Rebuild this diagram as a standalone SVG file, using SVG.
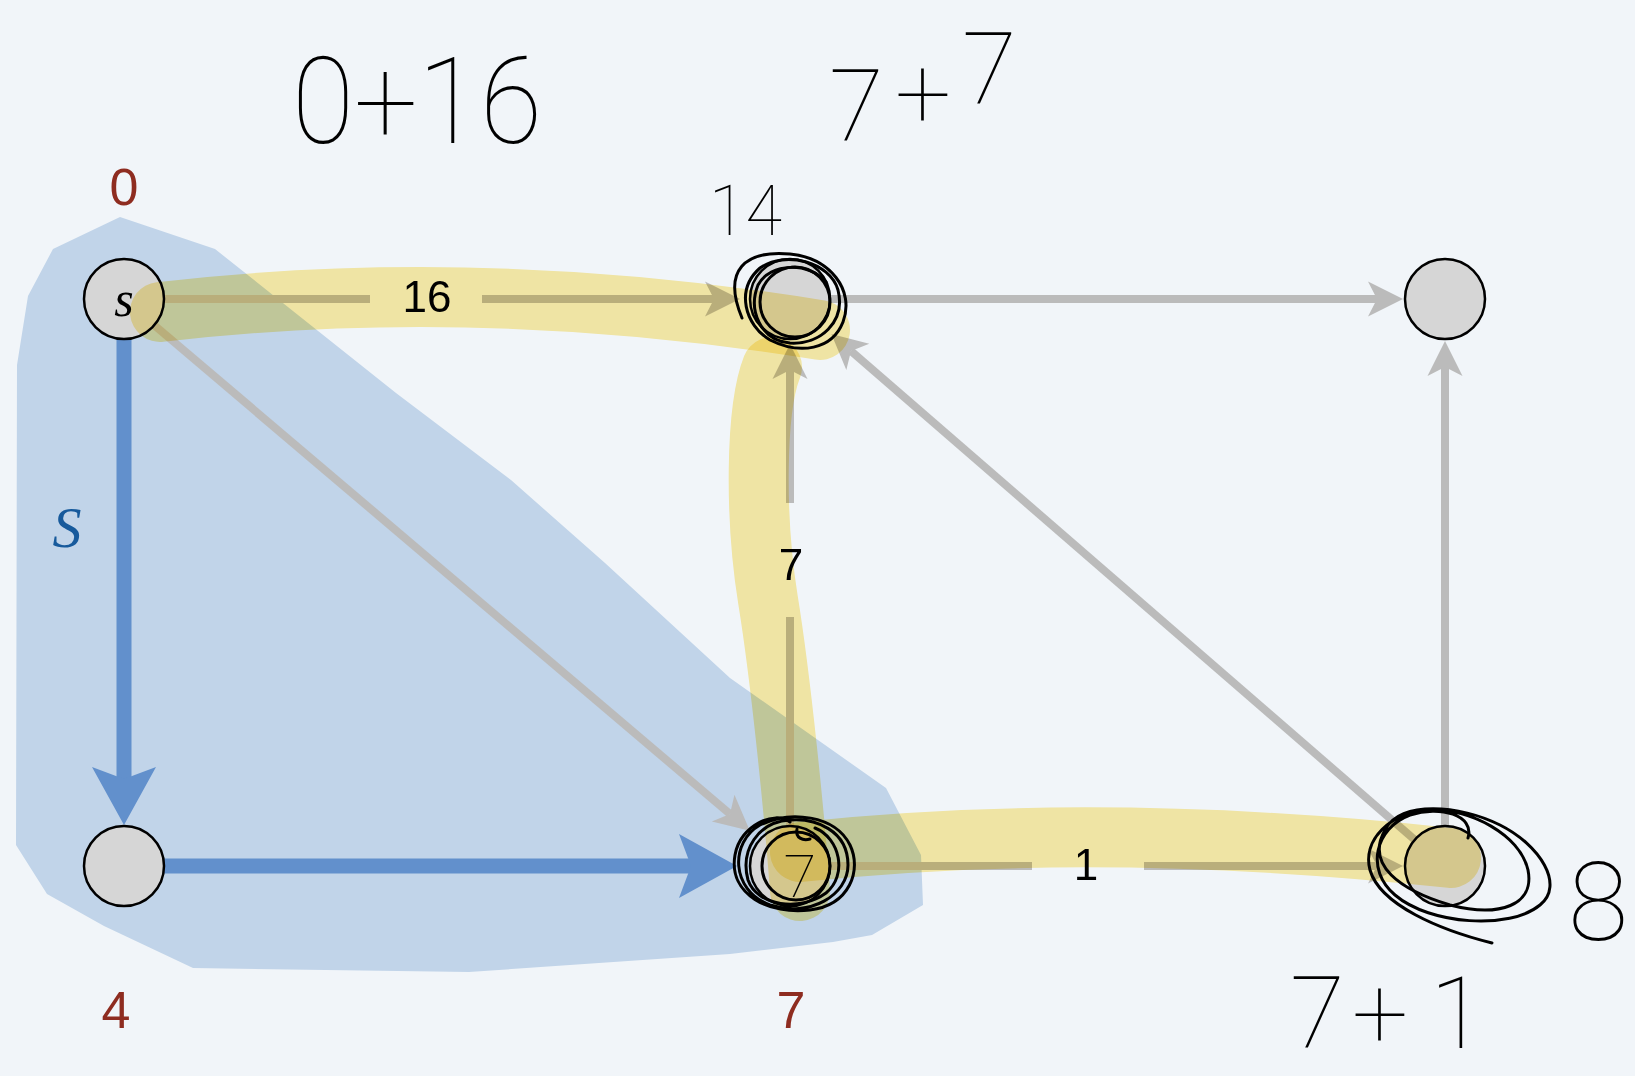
<svg xmlns="http://www.w3.org/2000/svg" width="1635" height="1076" viewBox="0 0 1635 1076">
<style>
.edge{stroke:#bbbbbb;stroke-width:8;fill:none}
.head{marker-end:url(#ag)}
.tree{stroke:#6290cc;stroke-width:15;fill:none;marker-end:url(#ab)}
.node circle{fill:#d6d6d6;stroke:#000;stroke-width:2.5}
.hl{fill:none;stroke:#fdeea8;stroke-width:60;stroke-linecap:round;mix-blend-mode:multiply}
.ink{fill:none;stroke:#000;stroke-width:3;stroke-linecap:round;stroke-linejoin:round}
.hand{font-family:Roboto,"Open Sans",sans-serif;font-weight:100;fill:#000}
.dist{fill:#8e2c20;font-family:"Liberation Sans",Arial,sans-serif;font-size:52px;text-anchor:middle}
.w{font-family:"Liberation Sans",Arial,sans-serif;font-size:44px;text-anchor:middle;fill:#000}
</style>
<defs>
<marker id="ag" markerUnits="userSpaceOnUse" markerWidth="40" markerHeight="40" viewBox="0 -20 40 40" refX="9" refY="0" orient="auto" overflow="visible"><path d="M0,-17.5 L35,0 L0,17.5 L9,0 Z" fill="#bbbbbb"/></marker>
<marker id="ab" markerUnits="userSpaceOnUse" markerWidth="60" markerHeight="70" viewBox="0 -35 60 70" refX="12" refY="0" orient="auto" overflow="visible"><path d="M0,-32 L58,0 L0,32 L12,0 Z" fill="#6290cc"/></marker>
</defs>
<rect width="1635" height="1076" fill="#f1f5f9"/>
<polygon id="region" fill="#c1d4e9" points="120,217 215,249 396,393 511,480 605,563 730,678 886,788 921,855 923,905 872,935 833,942 730,954 469,972 193,968 104,926 47,894 16,845 17,365 28,296 53,249"/>
<g id="connectors">
<line class="edge" x1="164" y1="299" x2="370" y2="299"/>
<line class="edge head" x1="482" y1="299" x2="714" y2="299"/>
<line class="edge head" x1="830" y1="299" x2="1377" y2="299"/>
<line class="edge head" x1="1445" y1="826" x2="1445" y2="367"/>
<line class="edge head" x1="1415" y1="840" x2="851" y2="351"/>
<line class="edge" x1="790" y1="826" x2="790" y2="617"/>
<line class="edge head" x1="790" y1="503" x2="790" y2="370"/>
<line class="edge head" x1="154" y1="325" x2="730" y2="814"/>
<line class="edge" x1="830" y1="866" x2="1032" y2="866"/>
<line class="edge head" x1="1144" y1="866" x2="1377" y2="866"/>
<line class="tree" x1="124" y1="339" x2="124" y2="779"/>
<line class="tree" x1="164" y1="866" x2="691" y2="866"/>
</g>
<g id="n_s" class="node"><circle cx="124" cy="299" r="40"/><text x="124" y="316" font-family="'Liberation Serif',serif" font-style="italic" font-size="50" text-anchor="middle">s</text></g>
<g id="n_tm" class="node"><circle cx="790" cy="299" r="40"/></g>
<g id="n_tr" class="node"><circle cx="1445" cy="299" r="40"/></g>
<g id="n_bl" class="node"><circle cx="124" cy="866" r="40"/></g>
<g id="n_bm" class="node"><circle cx="790" cy="866" r="40"/></g>
<g id="n_br" class="node"><circle cx="1445" cy="866" r="40"/></g>
<g id="highlight">
<path class="hl" d="M160 312 Q480 275 820 330"/>
<path class="hl" d="M772 367 C755 410 755 520 768 600 S795 820 800 891"/>
<path class="hl" d="M800 852 Q1100 820 1451 858"/>
</g>
<g id="labels">
<text class="w" x="427" y="312">16</text>
<text class="w" x="791" y="580">7</text>
<text class="w" x="1086" y="880">1</text>
<text class="dist" x="124" y="205">0</text>
<text class="dist" x="116" y="1028">4</text>
<text class="dist" x="791" y="1028">7</text>
<text x="67" y="547" font-family="'Liberation Serif',serif" font-style="italic" font-size="58" fill="#175a9c" text-anchor="middle">S</text>
</g>
<g id="ink">
<path class="ink" d="M742 318 C722 270 745 250 790 254 C830 258 855 290 843 322 C832 350 800 355 770 340 C745 325 735 290 760 268 C785 250 830 262 838 290 C846 322 820 345 790 343 C760 340 748 310 758 285 C770 262 810 262 826 282"/>
<circle class="ink" cx="795" cy="302" r="35"/>
<path class="ink" d="M790 822 C775 810 740 825 735 855 C728 895 770 915 810 910 C850 905 862 870 850 845 C835 815 790 810 760 825 C730 842 730 890 770 905 C810 918 848 895 848 865 C848 830 815 818 790 820 C758 822 740 850 748 880 C757 906 800 912 826 893 C848 875 840 838 815 828"/>
<circle class="ink" cx="796" cy="866" r="34"/>
<path class="ink" d="M797 829 C795 838 803 841 810 839"/>
<path class="ink" d="M1468 838 C1475 815 1440 805 1410 815 C1375 828 1365 870 1395 895 C1430 925 1510 930 1540 905 C1565 885 1540 845 1500 825 C1460 805 1400 800 1385 830 C1365 865 1400 890 1450 905 C1500 918 1535 905 1528 870 C1520 835 1470 808 1430 810 C1390 812 1362 840 1370 870 C1380 905 1440 930 1492 943"/>
<text class="hand" x="292" y="143" font-size="120" textLength="250" lengthAdjust="spacingAndGlyphs">0+16</text>
<text class="hand" font-size="100"><tspan x="829" y="141">7</tspan><tspan x="895" y="128">+</tspan><tspan x="962" y="104">7</tspan></text>
<text class="hand" x="709" y="235" font-size="70" textLength="73" lengthAdjust="spacingAndGlyphs">14</text>
<text class="hand" font-size="100"><tspan x="1290" y="1048">7</tspan><tspan x="1352" y="1048">+</tspan><tspan x="1430" y="1048">1</tspan></text>
<text class="hand" x="1568" y="940" font-size="110">8</text>
<text class="hand" x="800" y="897" font-size="60" text-anchor="middle">7</text>
</g>
</svg>
